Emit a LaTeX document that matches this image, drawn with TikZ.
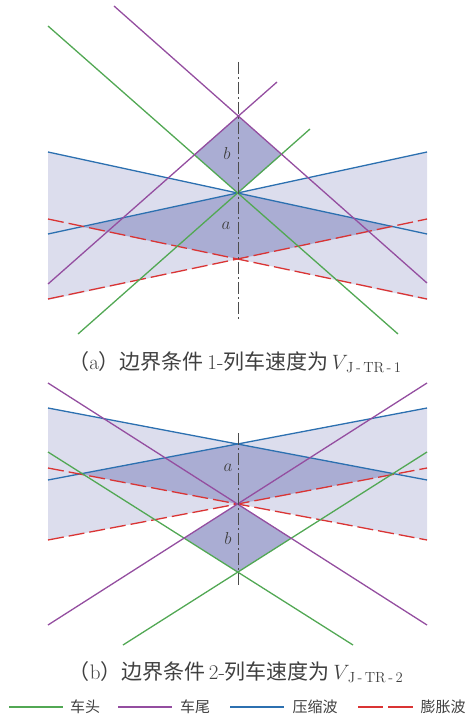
\documentclass[tikz,border=0pt]{standalone}
\usepackage{amsmath}
\usepackage{fontspec}
\newfontfamily\cjk{Noto Sans CJK SC}
\definecolor{headgreen}{RGB}{82,168,84}
\definecolor{tailpurple}{RGB}{148,78,160}
\definecolor{compblue}{RGB}{44,112,176}
\definecolor{expred}{RGB}{218,52,52}
\definecolor{lightlav}{RGB}{220,221,237}
\definecolor{darklav}{RGB}{170,173,211}
\definecolor{textgray}{RGB}{64,64,64}
\begin{document}
\begin{tikzpicture}[x=1pt, y=-1pt,
	head/.style={headgreen, line width=1.3pt},
	tail/.style={tailpurple, line width=1.3pt},
	comp/.style={compblue, line width=1.3pt},
	expan/.style={expred, line width=1.3pt, dash pattern=on 16pt off 5pt},
	axisline/.style={black!70, line width=0.9pt, dash pattern=on 12pt off 3pt on 2pt off 3pt},
	lightfill/.style={fill=lightlav},
	darkfill/.style={fill=darklav},
	lbl/.style={text=textgray, font=\fontsize{17}{17}\selectfont},
	capt/.style={text=textgray, font=\fontsize{21}{24}\selectfont},
	legtext/.style={text=textgray, font=\fontsize{15}{15}\selectfont\cjk}]
	\useasboundingbox (0,0) rectangle (468,719);
	
	% (a)
	\coordinate (Oa) at (238,193);
	\coordinate (Ta) at (238,116);
	\coordinate (Ra) at (238,259);
	\fill[lightfill] (48,152) -- (Oa) -- (Ra) -- (48,300) -- cycle;
	\fill[lightfill] (427,152) -- (Oa) -- (Ra) -- (427,300) -- cycle;
	\fill[darkfill] (Oa) -- (83,227) -- (Ra) -- (393,227) -- cycle;
	\fill[darkfill] (Ta) -- (194,154.5) -- (Oa) -- (282,154.5) -- cycle;
	\draw[comp] (48,152) -- (427,234);
	\draw[comp] (48,234) -- (427,152);
	\draw[expan] (48,219) -- (427,299);
	\draw[expan] (48,299) -- (427,219);
	\draw[head] (48,26) -- (398,334);
	\draw[head] (310,129) -- (78,334);
	\draw[tail] (114,6) -- (427,283);
	\draw[tail] (277,82) -- (48,284);
	\draw[axisline] (238,62) -- (238,320);
	\node[lbl] (la) at (226,226) {$a$};
	\node[lbl] (lb) at (227,154) {$b$};
	\node[capt] (capa) at (235,362) {{\cjk （}a{\cjk ）边界条件}\,1-{\cjk 列车速度为}\,$V_{\text{\,J\,-\,TR\,-\,1}}$};
	
	% (b)
	\coordinate (Ob) at (238,444);
	\coordinate (Rb) at (238,504);
	\coordinate (Gb) at (238,572);
	\fill[lightfill] (48,408) -- (Ob) -- (Rb) -- (48,540) -- cycle;
	\fill[lightfill] (427,408) -- (Ob) -- (Rb) -- (427,540) -- cycle;
	\fill[darkfill] (Ob) -- (80,474) -- (Rb) -- (396,474) -- cycle;
	\fill[darkfill] (Rb) -- (184.5,538) -- (Gb) -- (291.5,538) -- cycle;
	\draw[comp] (48,408) -- (427,480);
	\draw[comp] (48,480) -- (427,408);
	\draw[expan] (48,468) -- (427,540);
	\draw[expan] (48,540) -- (427,468);
	\draw[head] (48,452) -- (353,645);
	\draw[head] (427,452) -- (123,645);
	\draw[tail] (48,383) -- (427,625);
	\draw[tail] (427,383) -- (48,625);
	\draw[axisline] (238,433) -- (238,586);
	\node[lbl] (la2) at (228,468) {$a$};
	\node[lbl] (lb2) at (228,538) {$b$};
	\node[capt] (capb) at (236,672) {{\cjk （}b{\cjk ）边界条件}\,2-{\cjk 列车速度为}\,$V_{\text{\,J\,-\,TR\,-\,2}}$};
	
	% legend
	\draw[head] (9,707) -- (63,707);
	\node[legtext] (lghead) at (85,707) {车头};
	\draw[tail] (118,707) -- (172,707);
	\node[legtext] (lgtail) at (195,707) {车尾};
	\draw[comp] (230,707) -- (284,707);
	\node[legtext] (lgcomp) at (315,707) {压缩波};
	\draw[expan, dash pattern=on 25pt off 5pt] (358,707) -- (413,707);
	\node[legtext] (lgexp) at (443,707) {膨胀波};
\end{tikzpicture}
\end{document}
